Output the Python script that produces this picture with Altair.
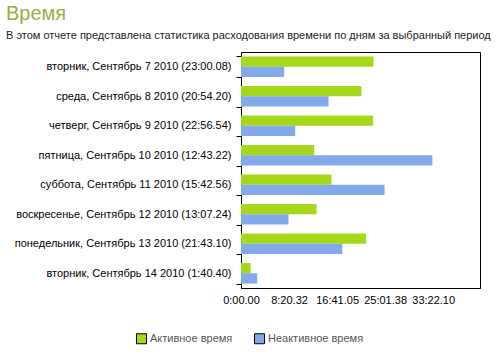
import altair as alt
import pandas as pd

days = [
    "вторник, Сентябрь 7 2010 (23:00.08)",
    "среда, Сентябрь 8 2010 (20:54.20)",
    "четверг, Сентябрь 9 2010 (22:56.54)",
    "пятница, Сентябрь 10 2010 (12:43.22)",
    "суббота, Сентябрь 11 2010 (15:42.56)",
    "воскресенье, Сентябрь 12 2010 (13:07.24)",
    "понедельник, Сентябрь 13 2010 (21:43.10)",
    "вторник, Сентябрь 14 2010 (1:40.40)",
]
# seconds
active = [1380.08, 1254.20, 1376.54, 763.22, 942.56, 787.24, 1303.10, 100.40]
inactive = [450, 912, 565, 1994, 1496, 495, 1055, 169]
series = ["Активное время", "Неактивное время"]
colors = ["#A6D81A", "#82A9EA"]
tick_values = [0, 500.32, 1001.05, 1501.38, 2002.10]
tick_labels = ["0:00.00", "8:20.32", "16:41.05", "25:01.38", "33:22.10"]
x_max = 2490

rows = []
for d, a, i in zip(days, active, inactive):
    rows.append({"day": d, "series": series[0], "seconds": a})
    rows.append({"day": d, "series": series[1], "seconds": i})
df = pd.DataFrame(rows)

# label expression built from the tick lists
expr = f"'{tick_labels[0]}'"
for k in range(1, len(tick_values)):
    expr = f"(datum.value >= {tick_values[k] - 1}) ? '{tick_labels[k]}' : ({expr})"

FONT = "Liberation Sans"

chart = alt.Chart(df).mark_bar().encode(
    y=alt.Y(
        "day:N",
        sort=days,
        title=None,
        scale=alt.Scale(paddingInner=0.3, paddingOuter=0.15),
        axis=alt.Axis(
            tickBand="extent", tickSize=5, labelPadding=5, labelFontSize=11,
            labelFont=FONT, labelColor="black", domainColor="black",
            tickColor="black", labelLimit=400,
        ),
    ),
    x=alt.X(
        "seconds:Q",
        scale=alt.Scale(domain=[0, x_max], nice=False),
        axis=alt.Axis(
            values=tick_values, labelExpr=expr, ticks=False, grid=False,
            title=None, labelPadding=6, labelFontSize=11, labelFont=FONT,
            labelColor="black", domainColor="black", labelOverlap=False,
            labelFlush=False,
        ),
    ),
    yOffset=alt.YOffset("series:N", sort=series),
    color=alt.Color(
        "series:N",
        scale=alt.Scale(domain=series, range=colors),
        legend=alt.Legend(
            title=None, orient="none", legendX=-105, legendY=281,
            direction="horizontal", symbolType="square", symbolSize=100,
            symbolStrokeColor="black", symbolStrokeWidth=1, symbolOpacity=1,
            labelColor="#555555", labelFontSize=11, labelFont=FONT,
            labelOffset=3, columnPadding=19,
        ),
    ),
).properties(
    width=239,
    height=236,
    title=alt.TitleParams(
        text="Время",
        subtitle="В этом отчете представлена статистика расходования времени по дням за выбранный период",
        anchor="start",
        frame="group",
        dx=-235,
        offset=5,
        font=FONT,
        fontSize=20,
        fontWeight="normal",
        color="#9AAF3E",
        subtitleFont=FONT,
        subtitleFontSize=11,
        subtitleColor="#222222",
        subtitlePadding=6,
    ),
    padding={"left": 241, "top": 52, "right": 23, "bottom": 71},
    autosize="none",
).configure_view(stroke="black", strokeWidth=1)

chart.save("out.html", embed_options={"renderer": "svg", "actions": False})
